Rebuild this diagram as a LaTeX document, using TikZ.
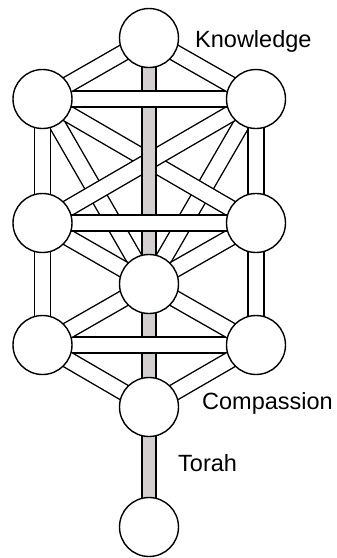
\documentclass[tikz,border=0pt]{standalone}
\usepackage{fontspec}
\setmainfont{Liberation Sans}
\definecolor{pillar}{HTML}{D3CFCF}
\usepackage{tikz}
\usetikzlibrary{backgrounds}

\begin{document}
\begin{tikzpicture}[x=1pt,y=-1pt,
  every node/.style={font=\fontsize{23.5}{28}\selectfont},
  sphere/.style={draw,circle,fill=white,line width=1.4pt,minimum size=59pt,inner sep=0pt},
  channel/.style={draw,line width=1.4pt,double=white,double distance=14.8pt},
  trunk/.style={draw,line width=1.4pt,double=pillar,double distance=12.5pt},
  label/.style={anchor=base west,inner sep=0pt}]
\useasboundingbox (0,0) rectangle (337,558);
% the ten circles
\node[sphere] (keter) at (149,38) {};
\node[sphere] (binah) at (42.5,99) {};
\node[sphere] (chokhmah) at (256,99) {};
\node[sphere] (gevurah) at (42.5,223) {};
\node[sphere] (chesed) at (256,223) {};
\node[sphere] (tiferet) at (149,284) {};
\node[sphere] (hod) at (42.5,345) {};
\node[sphere] (netzach) at (256,345) {};
\node[sphere] (yesod) at (149,407) {};
\node[sphere] (malkhut) at (149,527) {};
% labels
\node[label] (knowledge) at (195,47) {Knowledge};
\node[label] (compassion) at (202,409) {Compassion};
\node[label] (torah) at (178,471) {Torah};
\begin{pgfonlayer}{background}
% lowest channels
\draw[channel] (binah.center) -- (tiferet.center);
\draw[channel] (chokhmah.center) -- (tiferet.center);
\draw[channel] (gevurah.center) -- (tiferet.center);
\draw[channel] (chesed.center) -- (tiferet.center);
% crossing channels
\draw[channel] (binah.center) -- (chesed.center);
\draw[channel] (chokhmah.center) -- (gevurah.center);
% middle pillar
\draw[trunk] (keter.center) -- (malkhut.center);
% horizontals
\draw[channel] (binah.center) -- (chokhmah.center);
\draw[channel] (gevurah.center) -- (chesed.center);
\draw[channel] (hod.center) -- (netzach.center);
% side pillars
\draw[channel] (binah.center) -- (hod.center);
\draw[channel] (chokhmah.center) -- (netzach.center);
% the rest
\draw[channel] (keter.center) -- (binah.center);
\draw[channel] (keter.center) -- (chokhmah.center);
\draw[channel] (tiferet.center) -- (hod.center);
\draw[channel] (tiferet.center) -- (netzach.center);
\draw[channel] (hod.center) -- (yesod.center);
\draw[channel] (netzach.center) -- (yesod.center);
\end{pgfonlayer}
\end{tikzpicture}
\end{document}
